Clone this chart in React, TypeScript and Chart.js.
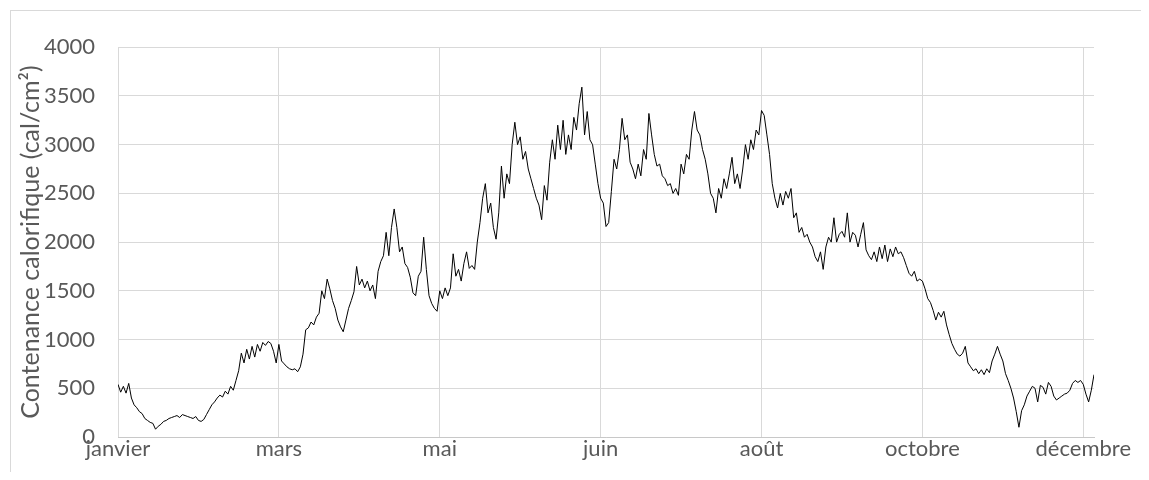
import React, { useEffect, useRef } from 'react';
import { Chart, registerables } from 'chart.js';

Chart.register(...registerables);

// ---- Tick labels / categories ----
const MONTHS_FR = ['janvier', 'février', 'mars', 'avril', 'mai', 'juin', 'juillet', 'août', 'septembre', 'octobre', 'novembre', 'décembre'];
const YEAR = 2019;
const TICK_STEP = 60; // one labelled category every 60 days
const Y_MIN = 0;
const Y_MAX = 4000;
const Y_STEP = 500;
const Y_TITLE = 'Contenance calorifique (cal/cm²)';

// ---- Daily values (cal/cm²) ----
const days001to027 = [540, 460, 520, 450, 550, 400, 330, 300, 260, 240, 190, 170, 150, 140, 80, 110, 130, 160, 170, 190, 200, 210, 220, 200, 230, 220, 210];
const days028to066 = [200, 190, 210, 170, 160, 180, 230, 280, 330, 360, 400, 430, 410, 470, 440, 520, 480, 580, 680, 860, 760, 900, 800, 930, 820, 950, 880, 970, 940, 980, 960, 880, 760, 950, 780, 750, 720, 700, 690];
const days067to105 = [700, 670, 720, 850, 1100, 1120, 1180, 1150, 1230, 1270, 1500, 1420, 1620, 1520, 1400, 1320, 1200, 1130, 1080, 1200, 1320, 1400, 1490, 1750, 1560, 1620, 1530, 1600, 1500, 1560, 1420, 1700, 1800, 1860, 2100, 1860, 2150, 2340, 2150];
const days106to144 = [1900, 1950, 1780, 1740, 1640, 1480, 1450, 1650, 1700, 2050, 1720, 1450, 1370, 1320, 1290, 1500, 1420, 1530, 1450, 1530, 1880, 1650, 1720, 1600, 1780, 1900, 1730, 1760, 1720, 2000, 2200, 2450, 2600, 2300, 2400, 2150, 2030, 2300, 2780];
const days145to183 = [2450, 2700, 2600, 3000, 3230, 3000, 3080, 2850, 2930, 2750, 2650, 2550, 2450, 2380, 2230, 2580, 2430, 2820, 3050, 2850, 3200, 2950, 3250, 2900, 3100, 2950, 3280, 3150, 3420, 3590, 3100, 3340, 3050, 3000, 2800, 2600, 2450, 2400, 2160];
const days184to222 = [2200, 2520, 2850, 2750, 2950, 3270, 3050, 3100, 2820, 2750, 2650, 2800, 2680, 2950, 2850, 3320, 3100, 2900, 2780, 2800, 2680, 2650, 2580, 2600, 2500, 2550, 2480, 2800, 2700, 2900, 2850, 3150, 3340, 3150, 3100, 2950, 2850, 2700, 2500];
const days223to261 = [2450, 2300, 2550, 2450, 2650, 2550, 2700, 2870, 2600, 2700, 2550, 2750, 3000, 2850, 3050, 2950, 3150, 3100, 3350, 3300, 3100, 2900, 2600, 2450, 2350, 2500, 2380, 2520, 2450, 2550, 2250, 2300, 2100, 2150, 2050, 2080, 2000, 1950, 1850];
const days262to300 = [1800, 1900, 1720, 1950, 2050, 2000, 2250, 2000, 2080, 2110, 2050, 2300, 2000, 2100, 2070, 1950, 2080, 2200, 1920, 1860, 1820, 1900, 1800, 1950, 1830, 1970, 1800, 1930, 1850, 1950, 1880, 1900, 1840, 1760, 1680, 1650, 1700, 1600, 1620];
const days301to339 = [1600, 1520, 1420, 1380, 1300, 1200, 1280, 1230, 1290, 1150, 1050, 960, 900, 850, 830, 860, 930, 760, 720, 680, 700, 650, 690, 640, 700, 660, 780, 850, 930, 850, 780, 650, 580, 500, 400, 260, 100, 270, 330];
const days340to365 = [420, 470, 520, 500, 360, 530, 510, 440, 560, 520, 420, 380, 400, 420, 440, 450, 480, 550, 580, 560, 580, 540, 440, 360, 480, 640];

const VALUES = [
  ...days001to027, ...days028to066, ...days067to105, ...days106to144, ...days145to183,
  ...days184to222, ...days223to261, ...days262to300, ...days301to339, ...days340to365,
];

const DAYS = VALUES.map((_, i) => new Date(YEAR, 0, 1 + i));
const LABELLED_DAYS = DAYS.map((_, i) => i).filter((i) => i % TICK_STEP === 0);
const POINTS = VALUES.map((y, i) => ({ x: i, y }));

const FONT = 'Lato';
const TEXT = '#595959';
const GRID = '#d9d9d9';
const AXIS = '#c8c8c8';

export default function App() {
  const ref = useRef<HTMLCanvasElement | null>(null);

  useEffect(() => {
    if (!ref.current) return;
    const chart = new Chart(ref.current, {
      type: 'line',
      data: {
        datasets: [
          {
            data: POINTS,
            borderColor: '#000000',
            borderWidth: 1,
            pointRadius: 0,
            tension: 0,
            fill: false,
          },
        ],
      },
      options: {
        animation: false,
        responsive: false,
        events: [],
        layout: { padding: { left: 0, top: 28, right: 45, bottom: 22 } },
        plugins: { legend: { display: false }, tooltip: { enabled: false } },
        scales: {
          x: {
            type: 'linear',
            min: 0,
            max: VALUES.length - 1,
            afterBuildTicks: (s: any) => {
              s.ticks = LABELLED_DAYS.map((v) => ({ value: v }));
            },
            grid: { drawTicks: false, lineWidth: 1, color: GRID },
            border: { display: true, color: AXIS, width: 1 },
            ticks: {
              autoSkip: false,
              maxRotation: 0,
              minRotation: 0,
              padding: 1,
              color: TEXT,
              font: { family: FONT, size: 22, lineHeight: 1 },
              callback: (v: any) => MONTHS_FR[DAYS[Math.round(v)].getMonth()],
            },
            afterFit: (s: any) => {
              s.height = 30;
            },
          },
          y: {
            min: Y_MIN,
            max: Y_MAX,
            ticks: {
              stepSize: Y_STEP,
              padding: 23,
              color: TEXT,
              font: { family: FONT, size: 22 },
              callback: (v: any) => String(v),
            },
            grid: { color: GRID, drawTicks: false, lineWidth: 1 },
            border: { display: false },
            title: {
              display: true,
              text: Y_TITLE,
              color: TEXT,
              font: { family: FONT, size: 25 },
              padding: { top: 5, bottom: 0 },
            },
            afterFit: (s: any) => {
              s.width = 107;
            },
          },
        },
      },
    });
    return () => chart.destroy();
  }, []);

  return (
    <div style={{ width: 1141, height: 464, overflow: 'hidden', background: '#fff' }}>
      <div
        style={{
          marginLeft: 2,
          marginTop: 2,
          width: 1160,
          height: 500,
          border: '1px solid #d9d9d9',
          boxSizing: 'border-box',
          background: '#fff',
        }}
      >
        <canvas ref={ref} width={1128} height={478} style={{ display: 'block' }} />
      </div>
    </div>
  );
}
